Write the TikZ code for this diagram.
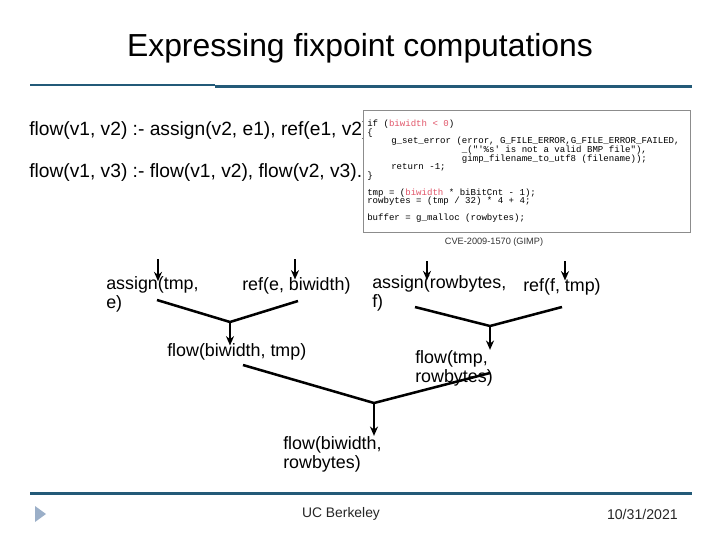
\documentclass[tikz,border=0pt]{standalone}
\usepackage{fontspec}
\setmainfont{Liberation Sans}
\newfontfamily\codefont{Liberation Mono}[Ligatures=TeXOff]
\usepackage{tikz}
\usetikzlibrary{positioning}
\usetikzlibrary{arrows.meta}
\definecolor{rulecol}{RGB}{35,90,120}
\definecolor{codered}{RGB}{225,85,105}
\definecolor{navtri}{RGB}{155,175,200}
\newcommand\codesize{\fontsize{6.8}{6.45}\selectfont\lineskiplimit-20pt\relax}

\begin{document}
\begin{tikzpicture}[x=0.75pt,y=-0.75pt]
    \useasboundingbox (0,0) rectangle (720,540);
    \tikzstyle{every node} = [inner sep=0pt];
    \tikzstyle{term} = [anchor=base west, align=left, font=\fontsize{13.4}{14.2}\selectfont];
    \tikzstyle{branch} = [line width=1.9pt];
    \tikzstyle{feed} = [line width=1.5pt, -{Stealth[length=7pt,width=6pt]}];
    \tikzstyle{code} = [anchor=base west, align=left, font=\codefont\codesize];

    \node (title) at (360,48) {\fontsize{23.9}{28}\selectfont Expressing fixpoint computations};
    \draw[rulecol, line width=1.5pt] (30,85) -- (215,85);
    \draw[rulecol, line width=2.25pt] (215,86) -- (692,86);

    \node[anchor=base west, font=\fontsize{14.4}{17}\selectfont] (rule1) at (29,135) {flow(v1, v2) :- assign(v2, e1), ref(e1, v2).};
    \node[anchor=base west, font=\fontsize{14.4}{17}\selectfont] (rule2) at (29,177) {flow(v1, v3) :- flow(v1, v2), flow(v2, v3).};

    \draw[draw=black!45, fill=white, line width=0.75pt] (363,110) rectangle (690,232);
    \node[code] (listing) at (367,220) {if (\textcolor{codered}{biwidth < 0})\\
        \{\\
        \hspace*{18pt}g\_set\_error (error, G\_FILE\_ERROR,G\_FILE\_ERROR\_FAILED,\\
        \hspace*{71pt}\_("'\%s' is not a valid BMP file"),\\
        \hspace*{71pt}gimp\_filename\_to\_utf8 (filename));\\
        \hspace*{18pt}return -1;\\
        \}\\[6.4pt]
        tmp = (\textcolor{codered}{biwidth} * biBitCnt - 1);\\
        rowbytes = (tmp / 32) * 4 + 4;\\[5.6pt]
        buffer = g\_malloc (rowbytes);};
    \node[text=black!80] (cve) at (494,242) {\fontsize{6.9}{8}\selectfont CVE-2009-1570 (GIMP)};

    \node[term] (asgtmp) at (106,308) {assign(tmp,\\e)};
    \node[term] (refe) at (242,290) {ref(e, biwidth)};
    \node[term] (asgrow) at (372,307) {assign(rowbytes,\\f)};
    \node[term] (reff) at (523,291) {ref(f, tmp)};
    \node[term] (flowbt) at (167,356) {flow(biwidth, tmp)};
    \node[term] (flowtr) at (415,382) {flow(tmp,\\rowbytes)};
    \node[term] (flowbr) at (283,468) {flow(biwidth,\\rowbytes)};

    \coordinate (in1) at (158,259);
    \coordinate (in2) at (295,259);
    \coordinate (in3) at (427,261);
    \coordinate (in4) at (565,261);
    \draw[feed, shorten >=-4pt] (in1) -- (in1 |- asgtmp.north);
    \draw[feed, shorten >=-2pt] (in2) -- (in2 |- refe.north);
    \draw[feed, shorten >=-4pt] (in3) -- (in3 |- asgrow.north);
    \draw[feed, shorten >=-2pt] (in4) -- (in4 |- reff.north);

    \coordinate (s1) at (157,300);
    \coordinate (s2) at (298,301);
    \coordinate (j1) at (230,322);
    \coordinate (s3) at (415,307);
    \coordinate (s4) at (562,307);
    \coordinate (j2) at (490,326);
    \coordinate (s5) at (243,365);
    \coordinate (s6) at (490,373);
    \coordinate (j3) at (374,403);
    \draw[branch] (s1) -- (j1) -- (s2);
    \draw[feed, shorten >=-2pt] (j1) -- (j1 |- flowbt.north);
    \draw[branch] (s3) -- (j2) -- (s4);
    \draw[feed] (j2) -- (j2 |- flowtr.north);
    \draw[branch] (s5) -- (j3) -- (s6);
    \draw[feed] (j3) -- (j3 |- flowbr.north);

    \draw[rulecol, line width=2.25pt] (30,493) -- (692,493);
    \fill[navtri] (35,506) -- (46,514) -- (35,522) -- cycle;
    \node[text=black!85] (place) at (341,514) {\fontsize{10.4}{12}\selectfont UC Berkeley};
    \node[text=black!85, anchor=east] (date) at (678,514) {\fontsize{10.6}{12}\selectfont 10/31/2021};
\end{tikzpicture}
\end{document}
